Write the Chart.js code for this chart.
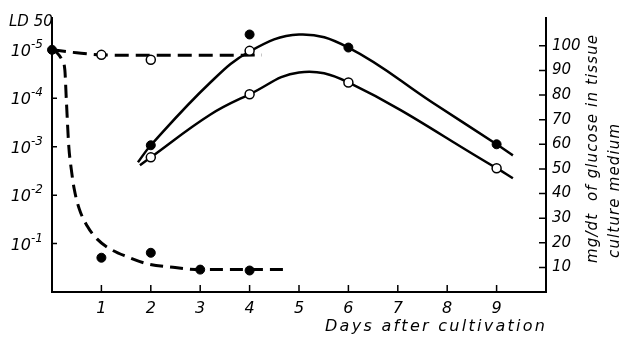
<!DOCTYPE html>
<html>
<head>
<meta charset="utf-8">
<script src="https://cdn.jsdelivr.net/npm/chart.js@4.4.0/dist/chart.umd.min.js"></script>
<style>
  html, body { margin: 0; padding: 0; background: #fff; }
</style>
</head>
<body>
<canvas id="ldChart" width="620" height="337"></canvas>
<script>
// axis ticks
const dayTicks = [1, 2, 3, 4, 5, 6, 7, 8, 9];
const ldTicks = [1e-5, 1e-4, 1e-3, 1e-2, 1e-1];
const ldTickLabels = ['10^-5', '10^-4', '10^-3', '10^-2', '10^-1'];
const glucoseTicks = [10, 20, 30, 40, 50, 60, 70, 80, 90, 100];

// LD50 - open circles, flat dashed curve
const ldOpenCurveDays = [0, 0.5, 1, 2, 3, 4.25];
const ldOpenCurveVals = [1e-5, 1.15e-5, 1.27e-5, 1.3e-5, 1.3e-5, 1.28e-5];
const ldOpenDays = [1, 2, 4];
const ldOpenVals = [1.27e-5, 1.6e-5, 1.05e-5];

// LD50 - filled circles, falling dashed curve
const ldFilledCurveDays = [0, 0.1, 0.2, 0.26, 0.29, 0.34, 0.39, 0.45, 0.55, 0.71, 0.91, 1.17, 1.52, 1.92, 2.45, 3, 4.78];
const ldFilledCurveVals = [1e-5, 1.15e-5, 1.6e-5, 2.6e-5, 1.07e-4, 9.8e-4, 2.9e-3, 7.5e-3, 1.9e-2, 4.3e-2, 8e-2, 0.128, 0.187, 0.26, 0.31, 0.345, 0.345];
const ldFilledDays = [0, 1, 2, 3, 4];
const ldFilledVals = [1e-5, 0.196, 0.155, 0.345, 0.36];

// glucose mg/dl - filled circles
const gluFilledCurveDays = [1.74, 2, 3.2, 4, 5, 6, 7.7, 9, 9.33];
const gluFilledCurveVals = [52.7, 59.6, 85, 97.7, 104.6, 99.3, 77, 60, 55.5];
const gluFilledDays = [2, 4, 6, 9];
const gluFilledVals = [59.6, 104.6, 99.3, 60];

// glucose mg/dl - open circles
const gluOpenCurveDays = [1.78, 2, 3.2, 4, 5, 6, 9, 9.33];
const gluOpenCurveVals = [51.5, 54.7, 72, 80.3, 89.2, 85.1, 50.3, 46.2];
const gluOpenDays = [2, 4, 6, 9];
const gluOpenVals = [54.7, 80.3, 85.1, 50.3];

const toPoints = (xs, ys) => xs.map((x, i) => ({ x: x, y: ys[i] }));

const fontFamily = "'DejaVu Sans', sans-serif";
const tickFont = { family: fontFamily, size: 15, style: 'italic' };

// spread text to a given width (the lettering in the figure is wide)
function spacedText(ctx, text, x, y, width) {
    ctx.letterSpacing = '0px';
    const w = ctx.measureText(text).width;
    ctx.letterSpacing = ((width - w) / (text.length - 1)) + 'px';
    ctx.fillText(text, x, y);
    ctx.letterSpacing = '0px';
}

const figureText = {
    id: 'figureText',
    afterDraw(chart) {
        const ctx = chart.ctx;
        const { x, yLD, yGlu } = chart.scales;
        ctx.save();
        ctx.fillStyle = '#000';
        ctx.strokeStyle = '#000';
        ctx.lineWidth = 1.5;

        // inward tick marks
        ctx.beginPath();
        dayTicks.forEach(v => {
            const px = x.getPixelForValue(v);
            ctx.moveTo(px, x.top); ctx.lineTo(px, x.top - 7);
        });
        ldTicks.forEach(v => {
            const py = yLD.getPixelForValue(v);
            ctx.moveTo(yLD.right, py); ctx.lineTo(yLD.right + 5, py);
        });
        glucoseTicks.forEach(v => {
            const py = yGlu.getPixelForValue(v);
            ctx.moveTo(yGlu.left, py); ctx.lineTo(yGlu.left - 7, py);
        });
        ctx.stroke();

        // left tick labels as 10 with raised exponent
        ctx.textBaseline = 'alphabetic';
        ldTicks.forEach((v, i) => {
            const py = yLD.getPixelForValue(v);
            const parts = ldTickLabels[i].split('^');
            ctx.textAlign = 'right';
            ctx.font = 'italic 16px ' + fontFamily;
            ctx.fillText(parts[0], 31, py + 6);
            ctx.textAlign = 'left';
            ctx.font = 'italic 12px ' + fontFamily;
            ctx.fillText(parts[1], 31, py - 2);
        });

        ctx.textAlign = 'left';
        ctx.font = 'italic 15px ' + fontFamily;
        ctx.fillText('LD 50', 9, 26);

        ctx.font = 'italic 16px ' + fontFamily;
        spacedText(ctx, 'Days after cultivation', 325, 331, 220);

        ctx.font = 'italic 15px ' + fontFamily;
        ctx.save();
        ctx.translate(597, 263);
        ctx.rotate(-Math.PI / 2);
        spacedText(ctx, 'mg/dt  of glucose in tissue', 0, 0, 228);
        ctx.restore();

        ctx.save();
        ctx.translate(619, 258);
        ctx.rotate(-Math.PI / 2);
        spacedText(ctx, 'culture medium', 0, 0, 134);
        ctx.restore();

        ctx.restore();
    }
};

const ctx = document.getElementById('ldChart').getContext('2d');

const ldChart = new Chart(ctx, {
    type: 'scatter',
    data: {
        datasets: [
            {
                label: 'LD50 open',
                data: toPoints(ldOpenDays, ldOpenVals),
                yAxisID: 'yLD',
                pointRadius: 4.5,
                pointBackgroundColor: '#fff',
                pointBorderColor: '#000',
                pointBorderWidth: 1.5,
                clip: false
            },
            {
                label: 'LD50 filled',
                data: toPoints(ldFilledDays, ldFilledVals),
                yAxisID: 'yLD',
                pointRadius: 4.5,
                pointBackgroundColor: '#000',
                pointBorderColor: '#000',
                clip: false
            },
            {
                label: 'Glucose filled',
                data: toPoints(gluFilledDays, gluFilledVals),
                yAxisID: 'yGlu',
                pointRadius: 4.5,
                pointBackgroundColor: '#000',
                pointBorderColor: '#000'
            },
            {
                label: 'Glucose open',
                data: toPoints(gluOpenDays, gluOpenVals),
                yAxisID: 'yGlu',
                pointRadius: 4.5,
                pointBackgroundColor: '#fff',
                pointBorderColor: '#000',
                pointBorderWidth: 1.5
            },
            {
                label: 'LD50 open curve',
                data: toPoints(ldOpenCurveDays, ldOpenCurveVals),
                yAxisID: 'yLD',
                showLine: true,
                pointRadius: 0,
                borderColor: '#000',
                borderWidth: 3,
                borderDash: [14, 7],
                cubicInterpolationMode: 'monotone',
                clip: false
            },
            {
                label: 'LD50 filled curve',
                data: toPoints(ldFilledCurveDays, ldFilledCurveVals),
                yAxisID: 'yLD',
                showLine: true,
                pointRadius: 0,
                borderColor: '#000',
                borderWidth: 3,
                borderDash: [13, 7],
                cubicInterpolationMode: 'monotone',
                clip: false
            },
            {
                label: 'Glucose filled curve',
                data: toPoints(gluFilledCurveDays, gluFilledCurveVals),
                yAxisID: 'yGlu',
                showLine: true,
                pointRadius: 0,
                borderColor: '#000',
                borderWidth: 2.5,
                tension: 0.4
            },
            {
                label: 'Glucose open curve',
                data: toPoints(gluOpenCurveDays, gluOpenCurveVals),
                yAxisID: 'yGlu',
                showLine: true,
                pointRadius: 0,
                borderColor: '#000',
                borderWidth: 2.5,
                tension: 0.4
            }
        ]
    },
    options: {
        responsive: false,
        animation: false,
        layout: { padding: { top: 18 } },
        plugins: {
            legend: { display: false },
            tooltip: { enabled: false }
        },
        scales: {
            x: {
                type: 'linear',
                position: 'bottom',
                min: 0,
                max: 10,
                afterFit: function(scale) { scale.height = 45; },
                afterBuildTicks: function(scale) {
                    scale.ticks = dayTicks.map(v => ({ value: v }));
                },
                grid: { drawOnChartArea: false, drawTicks: false },
                border: { color: '#000', width: 2 },
                ticks: {
                    color: '#000',
                    font: { family: fontFamily, size: 16, style: 'italic' },
                    padding: 7,
                    maxRotation: 0,
                    autoSkip: false
                }
            },
            yLD: {
                type: 'logarithmic',
                position: 'left',
                reverse: true,
                min: 2.2e-6,
                max: 1,
                afterFit: function(scale) { scale.width = 52; },
                afterBuildTicks: function(scale) {
                    scale.ticks = ldTicks.map(v => ({ value: v }));
                },
                grid: { drawOnChartArea: false, drawTicks: false },
                border: { color: '#000', width: 2 },
                ticks: { display: false }
            },
            yGlu: {
                type: 'linear',
                position: 'right',
                min: 0,
                max: 111.3,
                afterFit: function(scale) { scale.width = 74; },
                afterBuildTicks: function(scale) {
                    scale.ticks = glucoseTicks.map(v => ({ value: v }));
                },
                grid: { drawOnChartArea: false, drawTicks: false },
                border: { color: '#000', width: 2 },
                ticks: {
                    color: '#000',
                    font: tickFont,
                    padding: 6
                }
            }
        }
    },
    plugins: [figureText]
});
</script>
</body>
</html>
